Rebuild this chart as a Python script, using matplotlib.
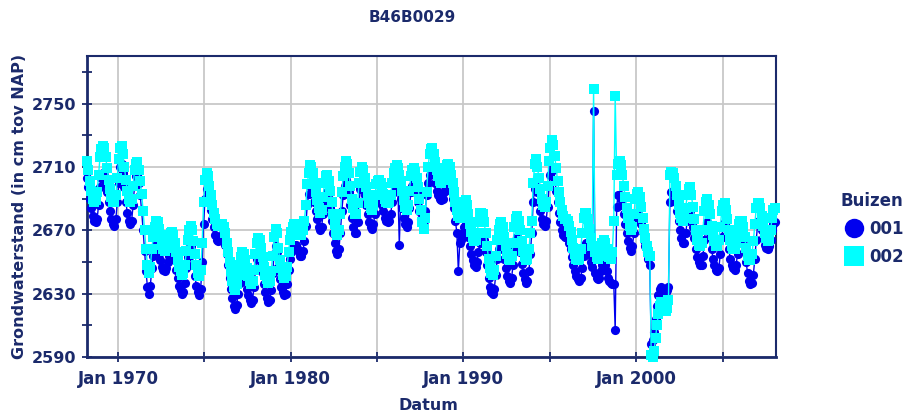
import matplotlib
matplotlib.use("Agg")
import matplotlib.pyplot as plt
from matplotlib.lines import Line2D
import pandas as pd

# ---------------- data ----------------
title = "B46B0029"
series_names = ["001", "002"]
first_month = "1968-03-01"   # monthly readings, mid-month

level_001 = [
    2703, 2697, 2690, 2684, 2679, 2676, 2675, 2677, 2686, 2697,              # 1968 (Mar-Dec)
    2703, 2706, 2705, 2700, 2694, 2688, 2682, 2677, 2674, 2673, 2677, 2688,  # 1969
    2700, 2710, 2712, 2706, 2697, 2688, 2681, 2676, 2674, 2676, 2686, 2698,  # 1970
    2704, 2705, 2700, 2692, 2682, 2670, 2657, 2644, 2634, 2630, 2635, 2646,  # 1971
    2654, 2659, 2661, 2659, 2655, 2651, 2647, 2645, 2644, 2646, 2650, 2654,  # 1972
    2656, 2658, 2656, 2651, 2645, 2640, 2635, 2632, 2630, 2631, 2637, 2646,  # 1973
    2653, 2659, 2660, 2655, 2648, 2641, 2635, 2631, 2629, 2633, 2650, 2674,  # 1974
    2690, 2696, 2694, 2689, 2683, 2677, 2672, 2667, 2664, 2663, 2664, 2666,  # 1975
    2667, 2665, 2661, 2655, 2648, 2640, 2633, 2627, 2622, 2620, 2623, 2630,  # 1976
    2637, 2642, 2645, 2643, 2638, 2633, 2629, 2626, 2624, 2626, 2634, 2645,  # 1977
    2652, 2656, 2655, 2650, 2643, 2636, 2631, 2627, 2625, 2626, 2632, 2643,  # 1978
    2655, 2660, 2656, 2647, 2639, 2634, 2631, 2629, 2630, 2636, 2645, 2652,  # 1979
    2656, 2659, 2661, 2661, 2659, 2656, 2654, 2654, 2657, 2663, 2673, 2686,  # 1980
    2693, 2698, 2698, 2694, 2688, 2682, 2677, 2672, 2670, 2672, 2680, 2688,  # 1981
    2692, 2694, 2690, 2684, 2676, 2668, 2662, 2657, 2655, 2658, 2668, 2682,  # 1982
    2692, 2698, 2702, 2700, 2694, 2686, 2678, 2672, 2668, 2668, 2675, 2688,  # 1983
    2696, 2698, 2696, 2692, 2686, 2680, 2675, 2672, 2671, 2674, 2680, 2688,  # 1984
    2690, 2692, 2690, 2686, 2682, 2678, 2676, 2675, 2676, 2680, 2688, 2694,  # 1985
    2698, 2700, 2698, 2661, 2690, 2684, 2678, 2674, 2672, 2675, 2684, 2694,  # 1986
    2698, 2700, 2698, 2694, 2688, 2682, 2677, 2675, 2676, 2682, 2692, 2700,  # 1987
    2705, 2708, 2710, 2706, 2700, 2695, 2692, 2690, 2689, 2690, 2694, 2698,  # 1988
    2700, 2702, 2700, 2695, 2690, 2684, 2676, 2668, 2644, 2662, 2664, 2668,  # 1989
    2672, 2675, 2673, 2666, 2660, 2655, 2651, 2648, 2647, 2650, 2656, 2662,  # 1990
    2666, 2668, 2664, 2656, 2648, 2640, 2634, 2631, 2630, 2633, 2642, 2652,  # 1991
    2658, 2662, 2662, 2658, 2652, 2646, 2641, 2638, 2637, 2640, 2648, 2658,  # 1992
    2664, 2666, 2663, 2656, 2649, 2643, 2639, 2637, 2638, 2644, 2655, 2668,  # 1993
    2688, 2696, 2698, 2694, 2688, 2682, 2677, 2674, 2673, 2676, 2685, 2698,  # 1994
    2705, 2709, 2708, 2702, 2695, 2688, 2681, 2675, 2670, 2667, 2666, 2666,  # 1995
    2665, 2662, 2658, 2653, 2648, 2644, 2641, 2639, 2638, 2640, 2646, 2654,  # 1996
    2660, 2662, 2660, 2655, 2650, 2647, 2745, 2643, 2640, 2639, 2640, 2644,  # 1997
    2648, 2650, 2648, 2644, 2640, 2638, 2637, 2636, 2636, 2607, 2685, 2692,  # 1998
    2692, 2690, 2686, 2680, 2674, 2668, 2663, 2659, 2657, 2660, 2668, 2676,  # 1999
    2678, 2680, 2678, 2674, 2669, 2664, 2660, 2656, 2652, 2648, 2598, 2601,  # 2000
    2606, 2614, 2622, 2629, 2633, 2634, 2632, 2631, 2631, 2632, 2634, 2688,  # 2001
    2694, 2695, 2693, 2688, 2682, 2676, 2670, 2665, 2662, 2662, 2668, 2676,  # 2002
    2680, 2682, 2678, 2672, 2665, 2658, 2653, 2650, 2648, 2648, 2654, 2664,  # 2003
    2672, 2675, 2672, 2666, 2658, 2652, 2648, 2645, 2644, 2646, 2655, 2666,  # 2004
    2672, 2675, 2672, 2665, 2658, 2652, 2648, 2646, 2645, 2648, 2655, 2662,  # 2005
    2666, 2667, 2664, 2658, 2650, 2643, 2638, 2636, 2637, 2642, 2652, 2664,  # 2006
    2674, 2676, 2674, 2670, 2665, 2661, 2659, 2658, 2660, 2664, 2670, 2674,  # 2007
    2675,                                                                    # 2008 (Jan)
]

level_002 = [
    2714, 2708, 2701, 2695, 2690, 2688, 2689, 2694, 2705, 2716,              # 1968 (Mar-Dec)
    2721, 2723, 2722, 2716, 2709, 2702, 2696, 2691, 2688, 2688, 2692, 2703,  # 1969
    2715, 2722, 2723, 2718, 2710, 2702, 2695, 2690, 2688, 2690, 2698, 2708,  # 1970
    2712, 2713, 2708, 2701, 2693, 2682, 2670, 2658, 2648, 2643, 2647, 2658,  # 1971
    2666, 2672, 2676, 2675, 2671, 2666, 2661, 2658, 2657, 2659, 2663, 2667,  # 1972
    2668, 2669, 2667, 2662, 2656, 2651, 2647, 2644, 2642, 2643, 2648, 2657,  # 1973
    2664, 2670, 2673, 2670, 2663, 2655, 2648, 2643, 2641, 2645, 2662, 2688,  # 1974
    2702, 2706, 2704, 2698, 2692, 2686, 2681, 2677, 2674, 2673, 2673, 2674,  # 1975
    2674, 2672, 2668, 2662, 2656, 2650, 2644, 2638, 2634, 2632, 2636, 2642,  # 1976
    2648, 2653, 2656, 2655, 2651, 2646, 2641, 2638, 2636, 2638, 2645, 2655,  # 1977
    2662, 2665, 2664, 2659, 2653, 2647, 2642, 2639, 2637, 2638, 2644, 2654,  # 1978
    2666, 2671, 2668, 2659, 2651, 2646, 2642, 2640, 2641, 2647, 2656, 2664,  # 1979
    2669, 2672, 2674, 2674, 2672, 2669, 2667, 2667, 2670, 2676, 2686, 2699,  # 1980
    2706, 2711, 2710, 2706, 2700, 2694, 2689, 2684, 2681, 2683, 2691, 2700,  # 1981
    2704, 2705, 2701, 2695, 2688, 2680, 2674, 2669, 2667, 2670, 2680, 2694,  # 1982
    2704, 2710, 2714, 2712, 2706, 2698, 2690, 2684, 2680, 2680, 2687, 2700,  # 1983
    2707, 2710, 2708, 2703, 2697, 2692, 2687, 2684, 2683, 2686, 2692, 2699,  # 1984
    2701, 2702, 2700, 2697, 2693, 2690, 2688, 2687, 2688, 2692, 2700, 2706,  # 1985
    2709, 2711, 2709, 2705, 2701, 2695, 2689, 2685, 2683, 2686, 2695, 2704,  # 1986
    2708, 2709, 2707, 2703, 2697, 2690, 2683, 2675, 2671, 2678, 2694, 2710,  # 1987
    2718, 2721, 2722, 2718, 2713, 2708, 2704, 2701, 2700, 2702, 2705, 2709,  # 1988
    2711, 2712, 2710, 2705, 2700, 2694, 2688, 2683, 2679, 2678, 2680, 2685,  # 1989
    2688, 2689, 2686, 2680, 2674, 2669, 2665, 2663, 2664, 2668, 2675, 2681,  # 1990
    2681, 2680, 2675, 2668, 2660, 2652, 2646, 2643, 2642, 2645, 2654, 2664,  # 1991
    2670, 2674, 2675, 2672, 2666, 2660, 2655, 2652, 2651, 2654, 2662, 2672,  # 1992
    2677, 2679, 2676, 2670, 2663, 2657, 2653, 2651, 2652, 2658, 2668, 2676,  # 1993
    2700, 2712, 2715, 2710, 2703, 2696, 2690, 2686, 2685, 2688, 2698, 2714,  # 1994
    2722, 2727, 2724, 2717, 2709, 2701, 2694, 2688, 2683, 2679, 2677, 2677,  # 1995
    2676, 2673, 2669, 2664, 2659, 2655, 2652, 2651, 2652, 2658, 2668, 2678,  # 1996
    2681, 2681, 2677, 2671, 2665, 2660, 2759, 2656, 2653, 2652, 2654, 2658,  # 1997
    2662, 2664, 2662, 2658, 2655, 2653, 2652, 2656, 2676, 2755, 2705, 2712,  # 1998
    2714, 2711, 2705, 2698, 2691, 2684, 2678, 2673, 2670, 2672, 2680, 2690,  # 1999
    2693, 2694, 2691, 2685, 2678, 2671, 2665, 2660, 2656, 2654, 2591, 2590,  # 2000
    2594, 2602, 2610, 2617, 2622, 2625, 2624, 2621, 2619, 2621, 2626, 2705,  # 2001
    2707, 2706, 2703, 2698, 2692, 2686, 2681, 2678, 2676, 2678, 2684, 2692,  # 2002
    2696, 2697, 2692, 2685, 2677, 2670, 2664, 2661, 2660, 2662, 2670, 2682,  # 2003
    2688, 2690, 2686, 2680, 2673, 2667, 2663, 2660, 2660, 2664, 2672, 2682,  # 2004
    2686, 2687, 2683, 2677, 2670, 2664, 2660, 2658, 2658, 2662, 2668, 2674,  # 2005
    2676, 2676, 2672, 2666, 2659, 2654, 2651, 2651, 2655, 2663, 2674, 2684,  # 2006
    2687, 2687, 2684, 2679, 2673, 2668, 2665, 2663, 2664, 2670, 2678, 2683,  # 2007
    2684,                                                                    # 2008 (Jan)
]

y_major = [2590, 2630, 2670, 2710, 2750]
y_minor = [2610, 2650, 2690, 2730, 2770]
x_major_years = [1970, 1980, 1990, 2000]
x_minor_years = [1975, 1985, 1995, 2005]

# ---------------- style ----------------
NAVY = "#1b2a6b"
BLUE = "#0000ee"
CYAN = "#00ffff"
GRID = "#c8c8c8"
FONT = "DejaVu Sans"

dates_001 = pd.date_range(first_month, periods=len(level_001), freq="MS") + pd.Timedelta(days=14)
dates_002 = pd.date_range(first_month, periods=len(level_002), freq="MS") + pd.Timedelta(days=14)

fig = plt.figure(figsize=(9.06, 4.17), dpi=100, facecolor="white")
W, H = 906, 417
ax = fig.add_axes([87 / W, 1 - 357 / H, (776 - 87) / W, (357 - 56) / H])

ax.plot(dates_001, level_001, color=BLUE, lw=1.0, marker="o", ms=6.6,
        mec=BLUE, mfc=BLUE, mew=0, clip_on=False, zorder=3)
ax.plot(dates_002, level_002, color=CYAN, lw=1.0, marker="s", ms=7.3,
        mec=CYAN, mfc=CYAN, mew=0, clip_on=False, zorder=4)

ax.set_ylim(2590, 2780)
ax.set_xlim(pd.Timestamp("1968-03-15"), pd.Timestamp("2008-02-06"))

ax.set_yticks(y_major)
ax.set_yticks(y_minor, minor=True)
ax.set_xticks([pd.Timestamp(f"{y}-01-01") for y in x_major_years])
ax.set_xticks([pd.Timestamp(f"{y}-01-01") for y in x_minor_years], minor=True)
ax.set_xticklabels([f"Jan {y}" for y in x_major_years])
ax.set_yticklabels([str(v) for v in y_major])

ax.grid(True, which="major", axis="both", color=GRID, lw=1.3, zorder=0)
ax.grid(True, which="minor", axis="x", color=GRID, lw=1.3, zorder=0)
ax.set_axisbelow(True)

ax.tick_params(axis="both", which="both", direction="inout", length=7, width=1.3,
               colors=NAVY)
ax.tick_params(axis="y", pad=4, labelsize=11.5)
ax.tick_params(axis="x", pad=6, labelsize=12)
for lab in ax.get_xticklabels() + ax.get_yticklabels():
    lab.set_fontweight("bold")
    lab.set_fontfamily(FONT)
    lab.set_color(NAVY)

for side in ["left", "bottom"]:
    ax.spines[side].set_color(NAVY)
    ax.spines[side].set_linewidth(2.0)
for side in ["top", "right"]:
    ax.spines[side].set_color(NAVY)
    ax.spines[side].set_linewidth(1.5)

fig.text(412 / W, 1 - 18 / H, title, ha="center", va="center",
         fontsize=11, fontweight="bold", color=NAVY, family=FONT)
fig.text(428 / W, 1 - 405 / H, "Datum", ha="center", va="center",
         fontsize=11.5, fontweight="bold", color=NAVY, family=FONT)
fig.text(20 / W, 1 - 206 / H, "Grondwaterstand (in cm tov NAP)", ha="center",
         va="center", rotation=90, fontsize=11.5, fontweight="bold", color=NAVY, family=FONT)

handles = [
    Line2D([0], [0], marker="o", ls="", color=BLUE, ms=14, mew=0),
    Line2D([0], [0], marker="s", ls="", color=CYAN, ms=14.5, mew=0),
]
leg = fig.legend(handles, series_names, title="Buizen", loc="upper left",
                 bbox_to_anchor=(840 / W, 1 - 192 / H), frameon=False,
                 handlelength=1.7, handletextpad=0.05, labelspacing=0.6,
                 borderpad=0, borderaxespad=0, alignment="left",
                 prop={"family": FONT, "weight": "bold", "size": 12},
                 title_fontproperties={"family": FONT, "weight": "bold", "size": 12})
for t in leg.get_texts():
    t.set_color(NAVY)
leg.get_title().set_color(NAVY)

fig.savefig("out.png", dpi=100, facecolor="white")
